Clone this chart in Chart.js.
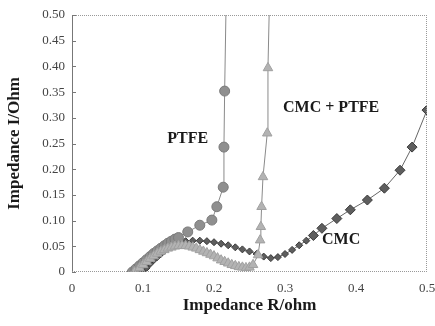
<!DOCTYPE html>
<html>
<head>
<meta charset="utf-8">
<script src="https://cdn.jsdelivr.net/npm/chart.js@4"></script>
<style>
  html, body { margin: 0; padding: 0; background: #fff; }
  #wrap { width: 435px; height: 326px; }
</style>
</head>
<body>
<div id="wrap"><canvas id="nyquist"></canvas></div>
<script>
// values (R, -I in ohm)
const ptfeR = [0.085, 0.09, 0.095, 0.1, 0.105, 0.11, 0.115, 0.12, 0.125, 0.13, 0.135, 0.14, 0.145, 0.15, 0.163, 0.18, 0.197, 0.204, 0.213, 0.214, 0.215, 0.217];
const ptfeI = [0, 0.006, 0.012, 0.018, 0.024, 0.03, 0.036, 0.041, 0.046, 0.051, 0.056, 0.06, 0.064, 0.067, 0.078, 0.091, 0.101, 0.127, 0.165, 0.243, 0.352, 0.52];

const cmcPtfeR = [0.088, 0.095, 0.1, 0.105, 0.11, 0.115, 0.12, 0.125, 0.13, 0.135, 0.14, 0.145, 0.15, 0.155, 0.16, 0.165, 0.17, 0.175, 0.18, 0.185, 0.19, 0.195, 0.2, 0.205, 0.21, 0.215, 0.22, 0.225, 0.23, 0.235, 0.24, 0.245, 0.25, 0.255, 0.262, 0.265, 0.266, 0.267, 0.269, 0.275, 0.276, 0.278];
const cmcPtfeI = [0, 0.008, 0.014, 0.02, 0.026, 0.031, 0.036, 0.04, 0.043, 0.046, 0.048, 0.05, 0.051, 0.051, 0.051, 0.05, 0.048, 0.046, 0.043, 0.04, 0.037, 0.034, 0.031, 0.027, 0.023, 0.02, 0.017, 0.014, 0.012, 0.01, 0.009, 0.008, 0.009, 0.014, 0.033, 0.062, 0.088, 0.127, 0.185, 0.27, 0.397, 0.52];

const cmcR = [0.1, 0.105, 0.11, 0.115, 0.12, 0.125, 0.13, 0.135, 0.14, 0.145, 0.15, 0.16, 0.17, 0.18, 0.19, 0.2, 0.21, 0.22, 0.23, 0.24, 0.25, 0.26, 0.27, 0.28, 0.29, 0.3, 0.31, 0.32, 0.33, 0.34, 0.352, 0.373, 0.392, 0.416, 0.44, 0.462, 0.479, 0.5];
const cmcI = [0, 0.008, 0.016, 0.023, 0.029, 0.035, 0.041, 0.046, 0.051, 0.054, 0.057, 0.06, 0.061, 0.061, 0.06, 0.058, 0.055, 0.052, 0.048, 0.044, 0.04, 0.035, 0.03, 0.027, 0.029, 0.035, 0.043, 0.052, 0.061, 0.071, 0.085, 0.104, 0.121, 0.14, 0.163, 0.198, 0.243, 0.315];

const xTicks = [0, 0.1, 0.2, 0.3, 0.4, 0.5];
const yTicks = [0, 0.05, 0.1, 0.15, 0.2, 0.25, 0.3, 0.35, 0.4, 0.45, 0.5];

const labels = [
  { text: 'PTFE', r: 0.163, i: 0.26 },
  { text: 'CMC + PTFE', r: 0.365, i: 0.319 },
  { text: 'CMC', r: 0.379, i: 0.062 }
];

const toPoints = (xs, ys) => xs.map((x, k) => ({ x, y: ys[k] }));
const serif = '"Liberation Serif", "Times New Roman", serif';

// dotted frame, inner y ticks and the text labels
const framePlugin = {
  id: 'frame',
  afterDatasetsDraw(chart) {
    const { ctx, chartArea: a, scales } = chart;
    ctx.save();
    ctx.strokeStyle = '#999';
    ctx.lineWidth = 1;
    ctx.setLineDash([1, 1]);
    ctx.beginPath();
    ctx.moveTo(a.left, a.top + 0.5);
    ctx.lineTo(a.right, a.top + 0.5);
    ctx.moveTo(a.right - 0.5, a.top);
    ctx.lineTo(a.right - 0.5, a.bottom);
    ctx.moveTo(a.left, a.bottom - 0.5);
    ctx.lineTo(a.right, a.bottom - 0.5);
    ctx.stroke();
    ctx.setLineDash([]);
    ctx.strokeStyle = '#777';
    ctx.beginPath();
    yTicks.forEach(v => {
      const py = Math.round(scales.y.getPixelForValue(v)) + 0.5;
      ctx.moveTo(a.left, py);
      ctx.lineTo(a.left + 4, py);
    });
    ctx.stroke();

    ctx.fillStyle = '#1a1a1a';
    ctx.font = 'bold 16px ' + serif;
    ctx.textAlign = 'center';
    ctx.textBaseline = 'middle';
    labels.forEach(l => {
      ctx.fillText(l.text, scales.x.getPixelForValue(l.r), scales.y.getPixelForValue(l.i));
    });
    ctx.restore();
  }
};

new Chart(document.getElementById('nyquist'), {
  type: 'scatter',
  data: {
    datasets: [
      {
        label: 'CMC + PTFE',
        data: toPoints(cmcPtfeR, cmcPtfeI),
        showLine: true,
        borderColor: '#8a8a8a',
        borderWidth: 1,
        pointStyle: 'triangle',
        pointRadius: 5.5,
        pointBackgroundColor: '#b3b3b3',
        pointBorderColor: '#a0a0a0',
        pointBorderWidth: 1
      },
      {
        label: 'PTFE',
        data: toPoints(ptfeR, ptfeI),
        showLine: true,
        borderColor: '#8a8a8a',
        borderWidth: 1,
        pointStyle: 'circle',
        pointRadius: 5,
        pointBackgroundColor: '#8f8f8f',
        pointBorderColor: '#7a7a7a',
        pointBorderWidth: 1
      },
      {
        label: 'CMC',
        data: toPoints(cmcR, cmcI),
        showLine: true,
        borderColor: '#666',
        borderWidth: 1,
        pointStyle: 'rectRot',
        pointRadius: ctx => (ctx.raw && ctx.raw.x < 0.34 ? 3.5 : 5),
        pointBackgroundColor: '#5e5e5e',
        pointBorderColor: '#3a3a3a',
        pointBorderWidth: 1
      }
    ]
  },
  options: {
    responsive: true,
    maintainAspectRatio: false,
    animation: false,
    layout: { padding: { top: 15, right: 8, left: 0, bottom: 0 } },
    plugins: {
      legend: { display: false },
      tooltip: { enabled: false }
    },
    scales: {
      x: {
        type: 'linear',
        min: 0,
        max: 0.5,
        afterFit: s => { s.height = 54; s.paddingRight = 0; s.paddingLeft = 0; },
        afterBuildTicks: s => { s.ticks = xTicks.map(v => ({ value: v })); },
        grid: { display: false, drawTicks: false },
        border: { display: false },
        ticks: {
          padding: 9,
          color: '#444',
          font: { family: serif, size: 13 },
          callback: v => (v === 0 ? '0' : v.toFixed(1))
        },
        title: {
          display: true,
          text: 'Impedance R/ohm',
          color: '#1a1a1a',
          font: { family: serif, size: 17, weight: 'bold' },
          padding: { top: 0, bottom: 10 }
        }
      },
      y: {
        type: 'linear',
        min: 0,
        max: 0.5,
        afterFit: s => { s.width = 72; s.paddingTop = 0; s.paddingBottom = 0; },
        afterBuildTicks: s => { s.ticks = yTicks.map(v => ({ value: v })); },
        grid: { display: false, drawTicks: false },
        border: { display: true, color: '#777', width: 1 },
        ticks: {
          padding: 7,
          color: '#444',
          font: { family: serif, size: 13 },
          callback: v => (v === 0 ? '0' : v.toFixed(2))
        },
        title: {
          display: true,
          text: 'Impedance I/Ohm',
          color: '#1a1a1a',
          font: { family: serif, size: 17, weight: 'bold' },
          padding: { top: 4, bottom: 0 }
        }
      }
    }
  },
  plugins: [framePlugin]
});
</script>
</body>
</html>
